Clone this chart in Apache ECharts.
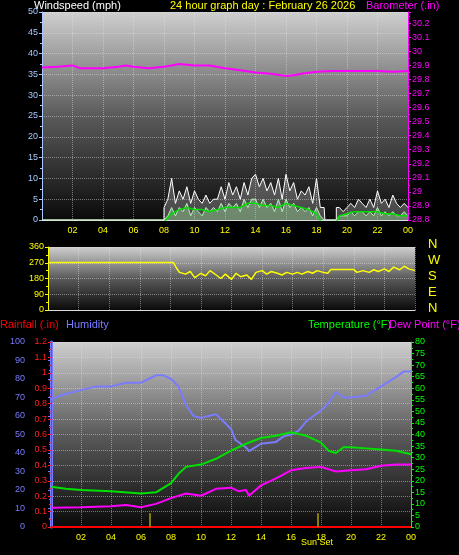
<!DOCTYPE html>
<html><head><meta charset="utf-8">
<script src="https://cdn.jsdelivr.net/npm/echarts@6/dist/echarts.min.js"></script>
<style>html,body{margin:0;background:#000}#c{width:459px;height:555px}</style>
</head><body><div id="c"></div>
<script>
// --- data (hours since midnight, value) ---
var baro = [[0,29.885],[1,29.89],[2,29.9],[2.5,29.88],[3,29.88],[4,29.88],[5,29.89],[5.5,29.9],[6,29.89],[7,29.88],[8,29.89],[8.5,29.9],[9,29.91],[10,29.9],[11,29.9],[12,29.88],[13,29.865],[14,29.85],[15,29.84],[16,29.825],[16.5,29.83],[17,29.84],[18,29.855],[19,29.86],[20,29.86],[21,29.86],[22,29.86],[23,29.855],[24,29.86]];
var windGust = [[0,0],[8,0],[8,3],[8.25,5],[8.5,10],[8.75,4],[9,7],[9.25,5],[9.5,8],[9.75,4],[10,7],[10.25,5],[10.5,4],[10.75,6],[11,4],[11.25,5],[11.5,5],[11.75,8],[12,5],[12.25,9],[12.5,6],[12.75,8],[13,5],[13.25,9],[13.5,6],[13.75,10],[14,11],[14.25,8],[14.5,10],[14.75,7],[15,9],[15.25,6],[15.5,10],[15.75,5],[16,11],[16.25,7],[16.5,9],[16.75,5],[17,7],[17.25,6],[17.5,8],[17.75,4],[18,10],[18.25,3],[18.5,3],[18.55,0],[19.3,0],[19.3,3],[19.5,3],[19.75,2],[20,3],[20.25,4],[20.5,3],[20.75,5],[21,4],[21.25,3],[21.5,5],[21.75,3],[22,7],[22.25,4],[22.5,5],[22.75,3],[23,6],[23.25,4],[23.5,3],[23.75,4],[24,3]];
var windSpeed = [[0,0],[8,0],[8.25,1],[8.5,3],[8.75,1],[9,3],[9.25,2],[9.5,4],[9.75,1],[10,3],[10.25,2],[10.5,1],[10.75,3],[11,2],[11.25,3],[11.5,2],[11.75,4],[12,2],[12.25,4],[12.5,3],[12.75,4],[13,2],[13.25,5],[13.5,3],[13.75,5],[14,5],[14.25,3],[14.5,5],[14.75,3],[15,4],[15.25,2],[15.5,5],[15.75,2],[16,5],[16.25,3],[16.5,4],[16.75,2],[17,3],[17.25,2],[17.5,3],[17.75,1],[18,3],[18.25,1],[18.5,0],[19.3,0],[19.5,1],[19.75,1],[20,1],[20.25,2],[20.5,1],[20.75,2],[21,2],[21.25,1],[21.5,2],[21.75,1],[22,3],[22.25,1],[22.5,2],[22.75,1],[23,2],[23.25,1],[23.5,1],[23.75,2],[24,1]];
var windAvg = [[0,-0.5],[8,-0.5],[8.5,1.5],[9,2.5],[9.5,3],[10,2.5],[10.5,2.5],[11,2],[11.5,2.5],[12,3],[12.5,3],[13,3],[13.5,4],[14,4],[14.5,3.5],[15,3.5],[15.5,3],[16,4],[16.5,3.5],[17,3],[17.5,2.5],[18,1.5],[18.3,-0.5],[19.3,-0.5],[19.5,1],[20,1.5],[20.5,2],[21,2],[21.5,2],[22,2],[22.5,1.5],[23,1.5],[23.5,1],[24,1]];
var windDir = [[0,272],[8.2,272],[8.4,240],[8.6,215],[9,205],[9.3,220],[9.6,185],[10,210],[10.3,195],[10.6,225],[11,200],[11.3,180],[11.6,205],[12,175],[12.3,210],[12.6,190],[13,200],[13.3,175],[13.6,215],[14,225],[14.3,205],[14.6,220],[15,210],[15.3,200],[15.6,215],[16,205],[16.3,215],[16.6,205],[17,220],[17.3,210],[17.6,225],[18,215],[18.3,210],[18.5,232],[20,232],[20.2,215],[20.6,225],[21,215],[21.3,230],[21.6,220],[22,235],[22.3,220],[22.6,245],[23,230],[23.3,250],[23.6,235],[24,225]];
var humidity = [[0,69],[1,72],[2,74],[3,76],[4,76],[5,78],[6,78],[6.5,80],[7,82],[7.5,82],[8,80],[8.5,76],[9,66],[9.5,60],[10,59],[10.5,60],[11,61],[11.5,57],[12,53],[12.3,47],[13,43],[13.2,41],[14,45],[15,46],[15.5,49],[16,50],[16.5,52],[17,57],[18,63],[18.5,67],[19,73],[19.5,70],[20,70],[21,71],[22,76],[23,81],[23.5,84],[24,84]];
var temperature = [[0,17.4],[1,16.5],[2,16],[4,15.5],[6,14.5],[7,15],[8,19],[8.5,23],[9,26],[10,27],[11,29.5],[12,33],[13,36],[14,38.5],[15,39.5],[16,41],[17,39.5],[18,36.5],[18.5,33],[19,32],[19.5,34.5],[20,34.5],[21,34],[22,33.5],[23,33],[24,31.5]];
var dewPoint = [[0,8.3],[2,8.5],[4,9],[5,9.5],[6,8.5],[7,10],[8,12.5],[9,14.5],[10,13.5],[11,16.5],[12,17],[12.5,15.5],[13,16],[13.2,13.5],[14,18],[15,21],[16,24.5],[17,25.5],[18,26],[19,24],[20,24.5],[21,25],[22,26.5],[23,27],[24,27]];
var rainfall = [[0,0],[24,0]];
var sunRise = [[6.6,0],[6.6,0.09]];
var sunSet = [[17.8,0],[17.8,0.09]];
var compass = ['N','W','S','E','N'];

var chart = echarts.init(document.getElementById('c'));
var F = 'Liberation Sans';
var bg = {type:'linear',x:0,y:0,x2:0,y2:1,colorStops:[{offset:0,color:'#cfcfcf'},{offset:0.5,color:'#5a5a5a'},{offset:1,color:'#0a0a0a'}]};
function hr(v){ if(v==0) return ''; var h=v%24; return (h<10?'0':'')+h; }
function xAx(gi){
  return {type:'value',gridIndex:gi,min:0,max:24,interval:2,
    axisLabel:{formatter:hr,color:'#ffff00',fontSize:9,fontFamily:F,margin:6},
    axisLine:{lineStyle:{color:'#ddd'}},axisTick:{show:false},
    splitLine:{show:true,lineStyle:{color:'rgba(230,230,230,0.45)',type:'dotted'}}};
}
function yAx(gi,o){
  return Object.assign({type:'value',gridIndex:gi,position:'left',
    axisLine:{show:true,lineStyle:{color:o.c,width:o.w||1}},
    axisTick:{show:true,length:3,lineStyle:{color:o.c}},
    minorTick:{show:true,splitNumber:2,length:2,lineStyle:{color:o.c}},
    axisLabel:{color:o.c,fontSize:9,fontFamily:F,margin:4},
    splitLine:{show:false}},o.x);
}
var gridLines = {show:true,lineStyle:{color:'rgba(230,230,230,0.45)',type:'dotted'}};

chart.setOption({
  backgroundColor:'#000',animation:false,
  grid:[
    {left:42,right:51,top:12,bottom:335,show:true,backgroundColor:bg,borderWidth:0},
    {left:48,right:44,top:247,bottom:245,show:true,backgroundColor:bg,borderWidth:0},
    {left:51,right:48,top:342,bottom:28,show:true,backgroundColor:bg,borderWidth:0}
  ],
  xAxis:[xAx(0),Object.assign(xAx(1),{axisLabel:{show:false}}),xAx(2)],
  yAxis:[
    yAx(0,{c:'#a8c8ff',x:{min:0,max:50,interval:5,splitLine:gridLines}}),
    yAx(0,{c:'#ff00ff',x:{position:'right',min:28.8,max:30.28,interval:0.1,axisLabel:{color:'#ff00ff',fontSize:9,fontFamily:F,margin:4,showMaxLabel:false,formatter:function(v){return +v.toFixed(1);}}}}),
    yAx(1,{c:'#ffff00',x:{min:0,max:360,interval:90,splitLine:gridLines}}),
    yAx(2,{c:'#7b7bff',w:3,x:{min:0,max:100,interval:10,offset:22}}),
    yAx(2,{c:'#ff2020',x:{min:0,max:1.2,interval:0.1,offset:0,splitLine:gridLines,axisLabel:{color:'#ff2020',fontSize:9,fontFamily:F,margin:4,formatter:function(v){return +v.toFixed(1);}}}}),
    yAx(2,{c:'#00ff00',x:{position:'right',min:0,max:80,interval:5}})
  ],
  graphic:[
    {type:'text',left:34,top:0,style:{text:'Windspeed (mph)',fill:'#fff',font:'11px '+F}},
    {type:'text',left:170,top:0,style:{text:'24 hour graph day : February 26 2026',fill:'#ffff00',font:'11px '+F}},
    {type:'text',left:366,top:0,style:{text:'Barometer (.in)',fill:'#ff00ff',font:'11px '+F}},
    {type:'text',left:0,top:319,style:{text:'Rainfall (.in)',fill:'#ff0000',font:'11px '+F}},
    {type:'text',left:66,top:319,style:{text:'Humidity',fill:'#7b7bff',font:'11px '+F}},
    {type:'text',left:308,top:319,style:{text:'Temperature (°F)',fill:'#00ff00',font:'11px '+F}},
    {type:'text',left:389,top:319,style:{text:'Dew Point (°F)',fill:'#ff00ff',font:'11px '+F}},
    {type:'text',left:301,top:538,style:{text:'Sun Set',fill:'#ffff00',font:'9px '+F}}
  ].concat(compass.map(function(t,i){return {type:'text',left:428,top:238+i*16,style:{text:t,fill:'#ffff00',font:'13px '+F}};})),
  series:[
    {type:'line',xAxisIndex:0,yAxisIndex:1,data:baro,showSymbol:false,lineStyle:{color:'#ff00ff',width:2}},
    {type:'line',xAxisIndex:0,yAxisIndex:0,data:windGust,showSymbol:false,lineStyle:{color:'#ffffff',width:1},areaStyle:{color:'rgba(255,255,255,0.35)'}},
    {type:'line',xAxisIndex:0,yAxisIndex:0,data:windSpeed,showSymbol:false,lineStyle:{color:'#b8f0b8',width:1},areaStyle:{color:'rgba(170,240,170,0.55)'}},
    {type:'line',xAxisIndex:0,yAxisIndex:0,data:windAvg,showSymbol:false,lineStyle:{color:'#00e000',width:1.5}},
    {type:'line',xAxisIndex:1,yAxisIndex:2,data:windDir,showSymbol:false,lineStyle:{color:'#ffff00',width:1.5}},
    {type:'line',xAxisIndex:2,yAxisIndex:3,data:humidity,showSymbol:false,lineStyle:{color:'#7b7bff',width:2}},
    {type:'line',xAxisIndex:2,yAxisIndex:5,data:temperature,showSymbol:false,lineStyle:{color:'#00e000',width:2}},
    {type:'line',xAxisIndex:2,yAxisIndex:5,data:dewPoint,showSymbol:false,lineStyle:{color:'#ff00ff',width:2}},
    {type:'line',xAxisIndex:2,yAxisIndex:4,data:rainfall,showSymbol:false,lineStyle:{color:'#ff0000',width:2}},
    {type:'line',xAxisIndex:2,yAxisIndex:4,data:sunRise,showSymbol:false,lineStyle:{color:'#b0a000',width:1.5}},
    {type:'line',xAxisIndex:2,yAxisIndex:4,data:sunSet,showSymbol:false,lineStyle:{color:'#b0a000',width:1.5}}
  ]
});
</script></body></html>
